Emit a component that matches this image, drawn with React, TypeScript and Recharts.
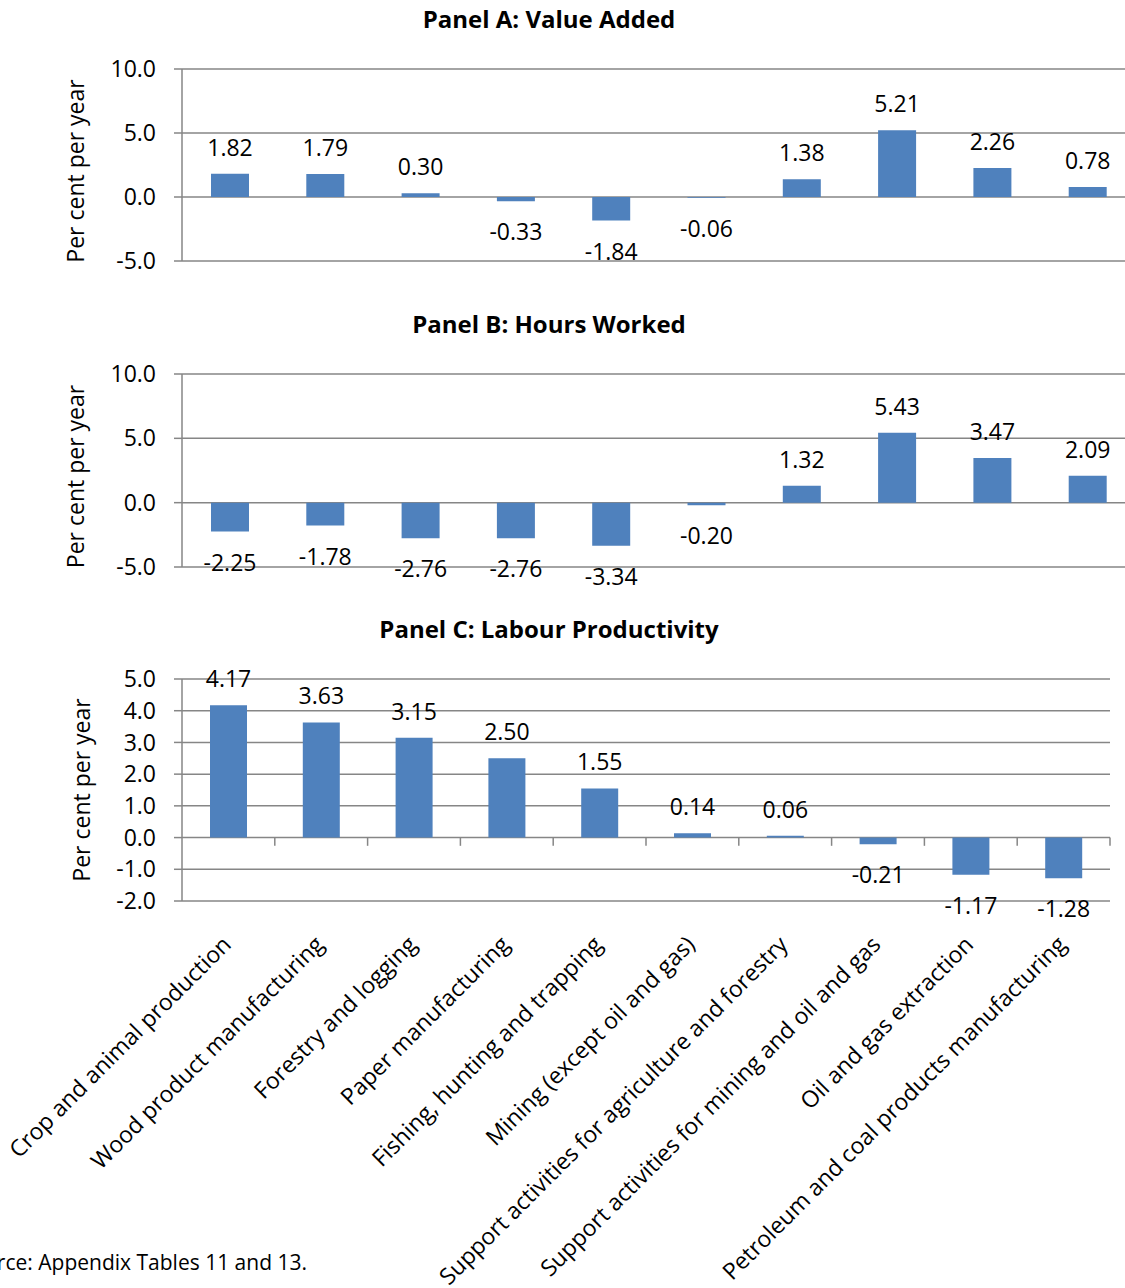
import React from 'react';
import { BarChart, Bar, XAxis, YAxis, CartesianGrid, LabelList, ReferenceLine } from 'recharts';

const sectors = [
  'Crop and animal production',
  'Wood product manufacturing',
  'Forestry and logging',
  'Paper manufacturing',
  'Fishing, hunting and trapping',
  'Mining (except oil and gas)',
  'Support activities for agriculture and forestry',
  'Support activities for mining and oil and gas',
  'Oil and gas extraction',
  'Petroleum and coal products manufacturing',
];
const valueAdded = [1.82, 1.79, 0.3, -0.33, -1.84, -0.06, 1.38, 5.21, 2.26, 0.78];
const hoursWorked = [-2.25, -1.78, -2.76, -2.76, -3.34, -0.2, 1.32, 5.43, 3.47, 2.09];
const labourProductivity = [4.17, 3.63, 3.15, 2.5, 1.55, 0.14, 0.06, -0.21, -1.17, -1.28];

const wideTicks = [-5, 0, 5, 10];
const productivityTicks = [-2, -1, 0, 1, 2, 3, 4, 5];

const panelTitles = ['Panel A: Value Added', 'Panel B: Hours Worked', 'Panel C: Labour Productivity'];
const yAxisTitle = 'Per cent per year';
const sourceNote = 'Source: Appendix Tables 11 and 13.';

const FONT = '"Open Sans", "Noto Sans", sans-serif';
const BAR = '#4F81BD';
const GRID = '#868686';
const FS = 23;

const toRows = (values: number[]) => sectors.map((name, i) => ({ name, value: values[i] }));
const rowsA = toRows(valueAdded);
const rowsB = toRows(hoursWorked);
const rowsC = toRows(labourProductivity);

// value label: above positive bars, below negative ones
const valueLabel = (above: number, below: number) => (props: any) => {
  const vb = props.viewBox ?? {};
  const x = Number(vb.x ?? props.x);
  const y = Number(vb.y ?? props.y);
  const w = Number(vb.width ?? props.width);
  const h = Number(vb.height ?? props.height);
  const v = Number(props.value);
  const top = Math.min(y, y + h);
  const bottom = Math.max(y, y + h);
  const cy = v >= 0 ? top - above : bottom + below;
  return (
    <text x={x + w / 2} y={cy} textAnchor="middle" dominantBaseline="central" fill="#000" fontSize={FS} fontFamily={FONT}>
      {v.toFixed(2)}
    </text>
  );
};

const yTitle = (cx: number, shift: number, fallbackCy: number) => (props: any) => {
  const vb = props.viewBox;
  const cy = (vb && vb.height ? vb.y + vb.height / 2 : fallbackCy) + shift;
  return (
    <text
      x={cx}
      y={cy}
      transform={`rotate(-90 ${cx} ${cy})`}
      textAnchor="middle"
      dominantBaseline="central"
      fill="#000"
      fontSize={FS}
      fontFamily={FONT}
    >
      {yAxisTitle}
    </text>
  );
};

// sector names, slanted at 45 degrees and ending just right of the category centre
const SectorTick = (props: any) => {
  const { x, y, payload } = props;
  const ax = Number(x) + 4;
  const ay = Number(y) + 45;
  return (
    <text x={ax} y={ay} transform={`rotate(-45 ${ax} ${ay})`} textAnchor="end" fill="#000" fontSize={FS} fontFamily={FONT}>
      {payload.value}
    </text>
  );
};

const tickStyle = { fill: '#000', fontSize: FS, fontFamily: FONT };
const fmt = (v: number) => v.toFixed(1);

const titleStyle = (top: number): React.CSSProperties => ({
  position: 'absolute',
  left: 0,
  top,
  width: 1098,
  textAlign: 'center',
  fontWeight: 700,
  fontSize: 24,
  lineHeight: '28px',
  fontFamily: FONT,
  color: '#000',
});

function WidePanel({ rows, top, marginTop, marginBottom }: { rows: any[]; top: number; marginTop: number; marginBottom: number }) {
  return (
    <div style={{ position: 'absolute', left: 0, top }}>
      <BarChart width={1140} height={300} data={rows} margin={{ top: marginTop, right: 5, bottom: marginBottom, left: 0 }}>
        <CartesianGrid vertical={false} stroke={GRID} strokeWidth={1.5} />
        <XAxis dataKey="name" hide />
        <YAxis
          width={182}
          type="number"
          domain={[-5, 10]}
          ticks={wideTicks}
          interval={0}
          allowDataOverflow
          tickFormatter={fmt}
          tick={tickStyle}
          tickSize={8}
          tickMargin={18}
          axisLine={{ stroke: GRID, strokeWidth: 1.5 }}
          tickLine={{ stroke: GRID, strokeWidth: 1.5 }}
          label={yTitle(75, 6, 165)}
        />
        <Bar dataKey="value" fill={BAR} barSize={38} isAnimationActive={false}>
          <LabelList dataKey="value" content={valueLabel(27, 30)} />
        </Bar>
      </BarChart>
    </div>
  );
}

export default function App() {
  return (
    <div style={{ position: 'absolute', left: 0, top: 0, width: 1125, height: 1288, overflow: 'hidden', background: '#fff' }}>
      <div style={titleStyle(5)}>{panelTitles[0]}</div>
      <WidePanel rows={rowsA} top={0} marginTop={69} marginBottom={39} />

      <div style={titleStyle(310)}>{panelTitles[1]}</div>
      <WidePanel rows={rowsB} top={300} marginTop={74} marginBottom={33} />

      <div style={titleStyle(615)}>{panelTitles[2]}</div>
      <div style={{ position: 'absolute', left: 0, top: 600 }}>
        <BarChart width={1115} height={700} data={rowsC} margin={{ top: 79, right: 5, bottom: 0, left: 0 }}>
          <CartesianGrid vertical={false} stroke={GRID} strokeWidth={1.5} />
          <XAxis
            dataKey="name"
            height={399}
            interval={0}
            tickLine={false}
            axisLine={false}
            tickSize={0}
            tickMargin={0}
            tick={SectorTick}
          />
          <YAxis
            width={182}
            type="number"
            domain={[-2, 5]}
            ticks={productivityTicks}
            interval={0}
            allowDataOverflow
            tickFormatter={fmt}
            tick={tickStyle}
            tickSize={8}
            tickMargin={18}
            axisLine={{ stroke: GRID, strokeWidth: 1.5 }}
            tickLine={{ stroke: GRID, strokeWidth: 1.5 }}
            label={yTitle(81, 0, 190)}
          />
          {/* short tick marks hanging below the zero line at each category boundary */}
          {sectors.map((name) => (
            <ReferenceLine
              key={name}
              position="end"
              segment={[{ x: name, y: 0 }, { x: name, y: -0.26 }]}
              stroke={GRID}
              strokeWidth={1.5}
            />
          ))}
          <Bar dataKey="value" fill={BAR} barSize={37} isAnimationActive={false}>
            <LabelList dataKey="value" content={valueLabel(27, 30)} />
          </Bar>
        </BarChart>
      </div>

      <div
        style={{
          position: 'absolute',
          left: -200,
          top: 1248,
          width: 507,
          textAlign: 'right',
          fontSize: 21,
          lineHeight: '28px',
          fontFamily: FONT,
          color: '#000',
          whiteSpace: 'nowrap',
        }}
      >
        {sourceNote}
      </div>
    </div>
  );
}
